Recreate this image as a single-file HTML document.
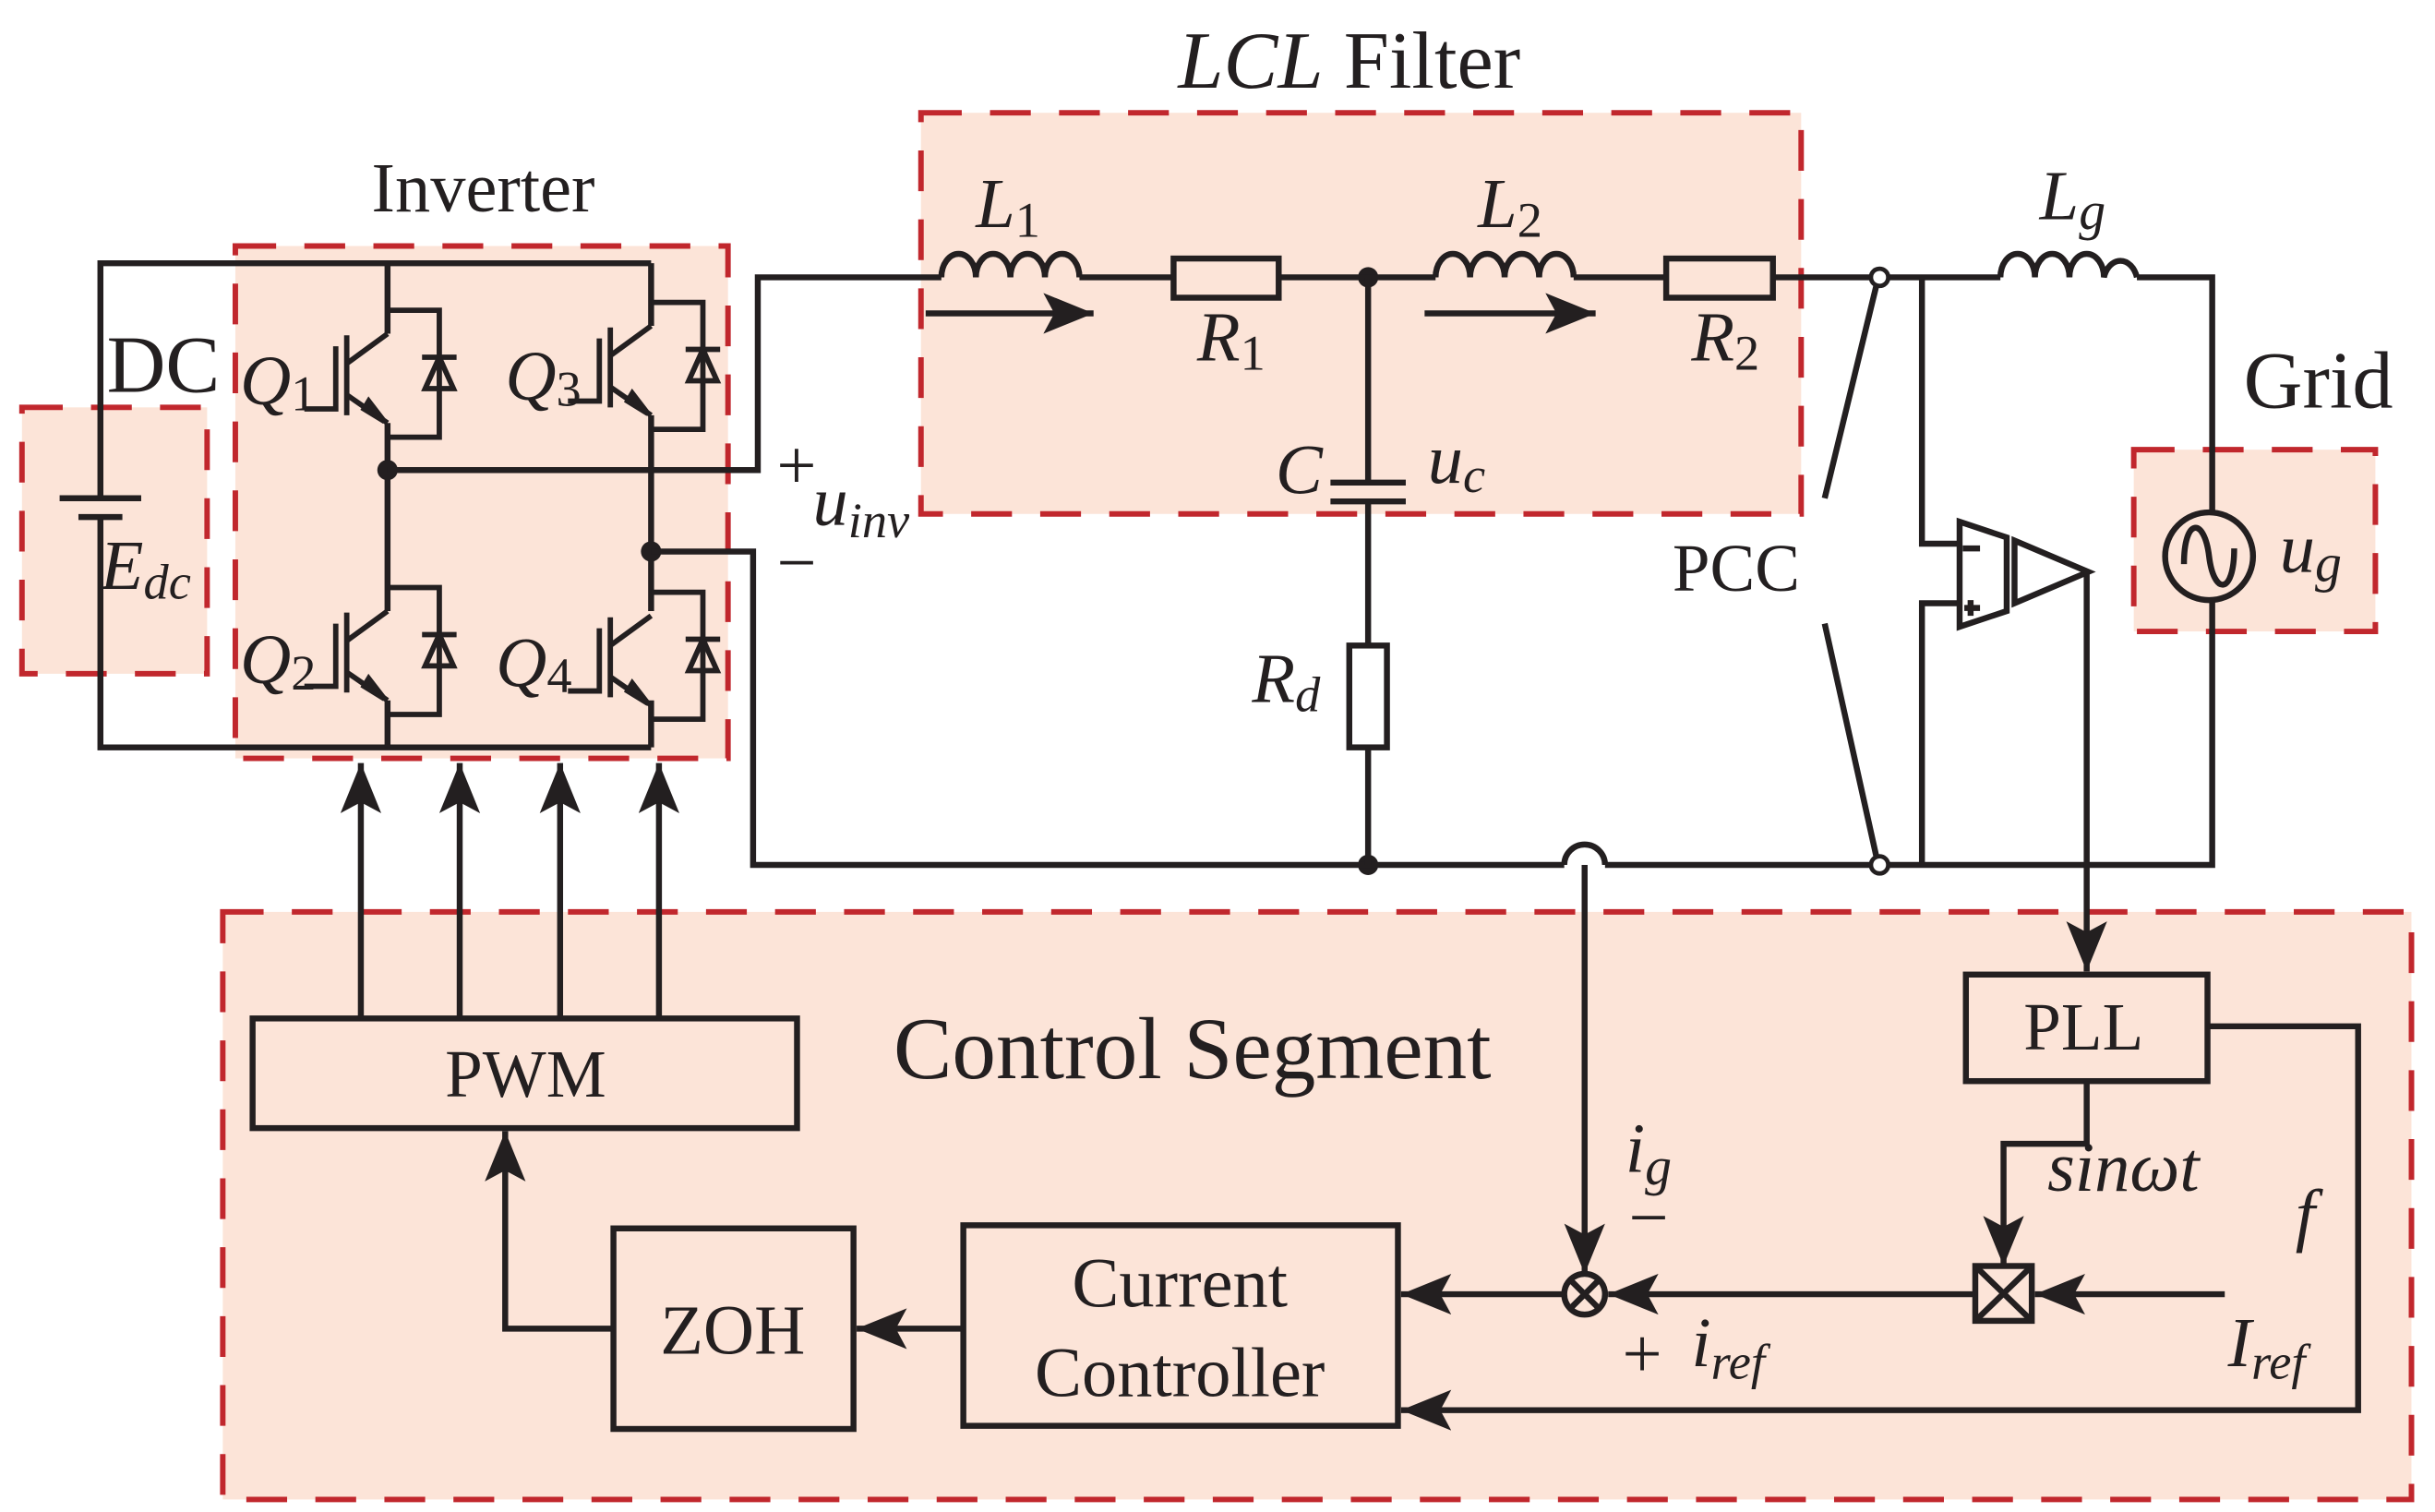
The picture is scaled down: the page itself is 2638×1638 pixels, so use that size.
<!DOCTYPE html>
<html><head><meta charset="utf-8"><style>
html,body{margin:0;padding:0;background:#fff}
svg{display:block}
text{font-family:"Liberation Serif",serif;fill:#231f20}
.i{font-style:italic}
</style></head><body>
<svg width="2638" height="1638" viewBox="0 0 1552 965" preserveAspectRatio="none" xmlns="http://www.w3.org/2000/svg">
<defs>
<marker id="a" markerUnits="userSpaceOnUse" markerWidth="36" markerHeight="36" refX="32" refY="13" orient="auto"><path d="M0,0 L32,13 L0,26 L7,13 Z" fill="#231f20"/></marker>
</defs>
<g fill="#fce4d8" stroke="#c1272d" stroke-width="3.5" stroke-dasharray="26,18">
<rect x="14" y="260" width="118" height="170"/>
<rect x="150" y="157" width="314" height="327"/>
<rect x="587" y="72" width="561" height="256"/>
<rect x="1360" y="287" width="154" height="116"/>
<rect x="142" y="582" width="1395" height="375"/>
</g>
<g fill="none" stroke="#231f20" stroke-width="3.8">
<path d="M64 318 V168 H415 M64 330 V477 H415"/>
<path d="M38 318 H90 M50 330 H78"/>
<path d="M247 168 V213 M247 270 V345 M247 345 V390 M247 447 V477"/>
<path d="M415 168 V208 M415 265 V390 M415 447 V477"/>
</g>
<g id="q" fill="none" stroke="#231f20" stroke-width="3.4">
<path d="M247 213 L221 232 M221 214 V265 M214 221 V261 H194 M221 252 L247 270"/>
<path d="M247 198 H280 V279 H247"/>
<path d="M269 228 H291"/>
<path d="M280 228 L271 248 H289 Z"/>
<path d="M232 261 L245 269 L235 256 Z" fill="#231f20"/>
</g>
<use href="#q" transform="translate(168,-5)"/>
<use href="#q" transform="translate(0,177)"/>
<use href="#q" transform="translate(168,180)"/>
<g fill="#231f20"><circle cx="247" cy="300" r="6.5"/><circle cx="415" cy="352" r="6.5"/><circle cx="872" cy="177" r="6.5"/><circle cx="872" cy="552" r="6.5"/></g>
<g fill="none" stroke="#231f20" stroke-width="3.8">
<path d="M247 300 H483 V177 H600 M688 177 H748 M815 177 H915 M1003 177 H1062 M1130 177 H1193 M1203 177 H1275 M1362 177 H1410 V327 M1410 383 V552 H1203 M1193 552 H1023 M997 552 H480 V352 H415"/>
<path d="M997 552 A13 13 0 0 1 1023 552"/>
<path d="M600 177 a11 15 0 0 1 22 0 a11 15 0 0 1 22 0 a11 15 0 0 1 22 0 a11 15 0 0 1 22 0"/>
<path d="M915 177 a11 15 0 0 1 22 0 a11 15 0 0 1 22 0 a11 15 0 0 1 22 0 a11 15 0 0 1 22 0"/>
<path d="M1275 177 a11 15 0 0 1 22 0 a11 15 0 0 1 22 0 a11 15 0 0 1 22 0 a11 15 0 0 1 21 0"/>
<rect x="748" y="165" width="67" height="25"/>
<rect x="1062" y="165" width="68" height="25"/>
<path d="M872 177 V308 M848 308 H896 M848 320 H896 M872 320 V412 M872 477 V552"/>
<rect x="860" y="412" width="24" height="65"/>
<path d="M1196 182 L1163 318 M1163 398 L1196 547"/>
<path d="M1225 177 V347 H1249 M1225 552 V385 H1249"/>
<path d="M1249 333 L1279 343 V390 L1249 400 Z M1284 345 L1331 365 L1284 385 Z"/>
<path d="M1251 350 H1262 M1252 388 H1262 M1256 383 V393"/>
<circle cx="1408" cy="355" r="28"/>
<path d="M1392 360 C1392 330 1405 330 1408 355 C1411 380 1424 380 1424 350"/>
<path d="M1330 365 V620" marker-end="url(#a)"/>
<path d="M590 200 H697" marker-end="url(#a)"/>
<path d="M908 200 H1017" marker-end="url(#a)"/>
<rect x="161" y="650" width="347" height="70"/>
<rect x="1253" y="622" width="154" height="68"/>
<rect x="391" y="784" width="153" height="128"/>
<rect x="614" y="782" width="277" height="128"/>
<circle cx="1010" cy="826" r="13"/>
<path d="M1001 817 L1019 835 M1019 817 L1001 835"/>
<rect x="1259" y="808" width="36" height="35"/>
<path d="M1259 808 L1295 843 M1295 808 L1259 843"/>
<path d="M230 650 V487" marker-end="url(#a)"/>
<path d="M293 650 V487" marker-end="url(#a)"/>
<path d="M357 650 V487" marker-end="url(#a)"/>
<path d="M420 650 V487" marker-end="url(#a)"/>
<path d="M1010 552 V813" marker-end="url(#a)"/>
<path d="M1330 690 V730 H1277 V808" marker-end="url(#a)"/>
<path d="M1407 655 H1503 V900 H893" marker-end="url(#a)"/>
<path d="M1418 826 H1297" marker-end="url(#a)"/>
<path d="M1259 826 H1025" marker-end="url(#a)"/>
<path d="M997 826 H893" marker-end="url(#a)"/>
<path d="M614 848 H546" marker-end="url(#a)"/>
<path d="M391 848 H322 V722" marker-end="url(#a)"/>
</g>
<g fill="#fff" stroke="#231f20" stroke-width="2.8"><circle cx="1198" cy="177" r="5.5"/><circle cx="1198" cy="552" r="5.5"/></g>
<text x="308" y="135" font-size="45" text-anchor="middle">Inverter</text>
<text x="860" y="56" font-size="52" text-anchor="middle"><tspan class="i">LCL</tspan> Filter</text>
<text x="68" y="250" font-size="52">DC</text>
<text x="1430" y="260" font-size="52">Grid</text>
<text x="1066" y="377" font-size="43">PCC</text>
<text x="760" y="688" font-size="56" text-anchor="middle">Control Segment</text>
<text x="335" y="700" font-size="43" text-anchor="middle">PWM</text>
<text x="1328" y="670" font-size="43" text-anchor="middle">PLL</text>
<text x="467" y="864" font-size="45" text-anchor="middle">ZOH</text>
<text x="752" y="834" font-size="45" text-anchor="middle">Current</text>
<text x="752" y="891" font-size="45" text-anchor="middle">Controller</text>
<g font-size="45">
<text x="153" y="258" class="i">Q<tspan font-size="32" font-style="normal" dy="4">1</tspan></text>
<text x="322" y="255" class="i">Q<tspan font-size="32" font-style="normal" dy="4">3</tspan></text>
<text x="153" y="436" class="i">Q<tspan font-size="32" font-style="normal" dy="4">2</tspan></text>
<text x="316" y="438" class="i">Q<tspan font-size="32" font-style="normal" dy="4">4</tspan></text>
<text x="64" y="376" class="i">E<tspan font-size="32" dy="6">dc</tspan></text>
<text x="622" y="145" class="i">L<tspan font-size="32" font-style="normal" dy="6">1</tspan></text>
<text x="942" y="145" class="i">L<tspan font-size="32" font-style="normal" dy="6">2</tspan></text>
<text x="1300" y="140" class="i">L<tspan font-size="34" dy="6">g</tspan></text>
<text x="763" y="230" class="i">R<tspan font-size="32" font-style="normal" dy="6">1</tspan></text>
<text x="1078" y="230" class="i">R<tspan font-size="32" font-style="normal" dy="6">2</tspan></text>
<text x="798" y="448" class="i">R<tspan font-size="32" dy="6">d</tspan></text>
<text x="813" y="315" class="i">C</text>
<text x="910" y="308" class="i">u<tspan font-size="32" dy="6">c</tspan></text>
<text x="1453" y="365" class="i">u<tspan font-size="34" dy="6">g</tspan></text>
<text x="518" y="335" class="i">u<tspan font-size="32" dy="8">inv</tspan></text>
<text x="495" y="312">+</text>
<text x="495" y="374">−</text>
<text x="1036" y="748" class="i">i<tspan font-size="34" dy="8">g</tspan></text>
<text x="1038" y="792">−</text>
<text x="1305" y="760" class="i">sinωt</text>
<text x="1463" y="790" class="i">f</text>
<text x="1034" y="879">+</text>
<text x="1078" y="872" class="i">i<tspan font-size="32" dy="8">ref</tspan></text>
<text x="1420" y="872" class="i">I<tspan font-size="32" dy="8">ref</tspan></text>
</g>
</svg>
</body></html>
